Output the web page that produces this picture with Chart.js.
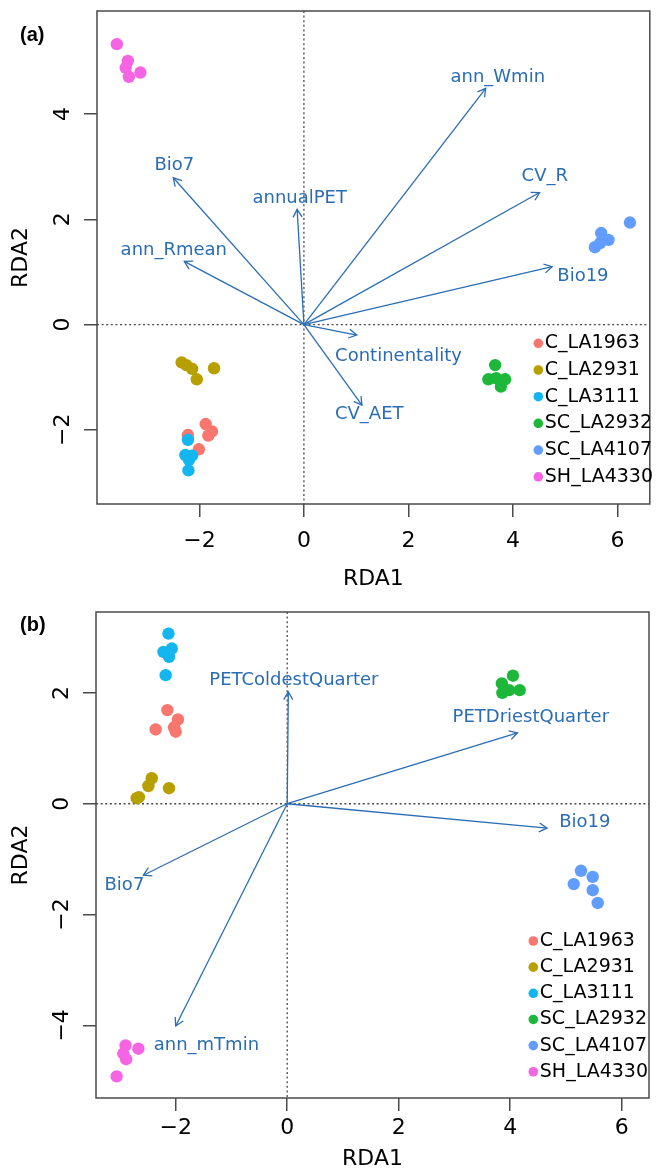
<!DOCTYPE html>
<html><head><meta charset="utf-8">
<script src="https://cdn.jsdelivr.net/npm/chart.js@4.4.1/dist/chart.umd.min.js"></script>
<style>html,body{margin:0;padding:0;background:#fff;}canvas{display:block;}</style>
</head><body>
<canvas id="ca" width="656" height="590"></canvas>
<canvas id="cb" width="656" height="580"></canvas>
<script>
// ---------- data ----------
const groups = ['C_LA1963','C_LA2931','C_LA3111','SC_LA2932','SC_LA4107','SH_LA4330'];
const groupColors = ['#F8766D','#B79F00','#14B6EF','#1DB83A','#619CFF','#F564E3'];

// panel (a) site scores
const a_C_LA1963  = [[-1.88,-1.89],[-1.76,-2.03],[-1.83,-2.11],[-2.01,-2.37],[-2.22,-2.10]];
const a_C_LA2931  = [[-2.34,-0.72],[-2.25,-0.77],[-2.14,-0.84],[-2.05,-1.04],[-1.72,-0.83]];
const a_C_LA3111  = [[-2.22,-2.19],[-2.27,-2.48],[-2.14,-2.49],[-2.20,-2.57],[-2.21,-2.77]];
const a_SC_LA2932 = [[3.66,-0.77],[3.53,-1.04],[3.68,-1.02],[3.85,-1.04],[3.77,-1.18]];
const a_SC_LA4107 = [[6.24,1.94],[5.69,1.74],[5.83,1.61],[5.57,1.47],[5.67,1.55]];
const a_SH_LA4330 = [[-3.58,5.33],[-3.37,5.01],[-3.41,4.88],[-3.35,4.71],[-3.13,4.79]];

// panel (a) biplot arrows
const a_arrowNames = ['Bio7','annualPET','ann_Rmean','ann_Wmin','CV_R','Bio19','Continentality','CV_AET'];
const a_arrowX = [-2.50,-0.13,-2.29,3.48,4.51,4.75,1.01,1.11];
const a_arrowY = [2.79,2.19,1.20,4.49,2.51,1.10,-0.20,-1.53];
const a_labelX = [-2.48,-0.08,-2.49,3.71,4.61,5.34,1.81,1.25];
const a_labelY = [3.03,2.40,1.42,4.70,2.81,0.91,-0.61,-1.70];

// panel (b) site scores
const b_C_LA1963  = [[-2.15,1.69],[-1.96,1.52],[-2.36,1.34],[-2.00,1.30],[-2.03,1.38]];
const b_C_LA2931  = [[-2.43,0.46],[-2.49,0.32],[-2.70,0.10],[-2.12,0.28],[-2.66,0.12]];
const b_C_LA3111  = [[-2.13,3.07],[-2.22,2.74],[-2.07,2.80],[-2.12,2.65],[-2.18,2.32]];
const b_SC_LA2932 = [[4.05,2.31],[3.85,2.17],[4.17,2.05],[3.86,2.00],[3.98,2.05]];
const b_SC_LA4107 = [[5.27,-1.21],[5.48,-1.32],[5.14,-1.45],[5.48,-1.56],[5.57,-1.79]];
const b_SH_LA4330 = [[-2.90,-4.36],[-2.67,-4.42],[-2.94,-4.51],[-2.89,-4.61],[-3.06,-4.92]];

// panel (b) biplot arrows
const b_arrowNames = ['PETColdestQuarter','PETDriestQuarter','Bio19','Bio7','ann_mTmin'];
const b_arrowX = [0.02,4.13,4.66,-2.58,-2.00];
const b_arrowY = [2.02,1.28,-0.44,-1.29,-4.01];
const b_labelX = [0.12,4.37,5.34,-2.92,-1.45];
const b_labelY = [2.23,1.56,-0.34,-1.47,-4.36];

// axes
const a_xTicks = [-2,0,2,4,6];
const a_yTicks = [-2,0,2,4];
const a_xRange = [-3.96,6.62];
const a_yRange = [-3.41,5.96];
const b_xTicks = [-2,0,2,4,6];
const b_yTicks = [-4,-2,0,2];
const b_xRange = [-3.43,6.49];
const b_yRange = [-5.31,3.46];
const xTitle = 'RDA1';
const yTitle = 'RDA2';

// ---------- drawing ----------
const FONT = 'DejaVu Sans';
const ARROW = '#2B6DB3';
const AXIS = '#4a4a4a';
const fmt = v => v < 0 ? '\u2212' + Math.abs(v) : String(v);

function makePanel(id, cfg) {
  const ptsets = cfg.points;
  const datasets = groups.map((g, i) => ({
    label: g,
    data: ptsets[i].map(p => ({x: p[0], y: p[1]})),
    backgroundColor: groupColors[i],
    borderColor: groupColors[i],
    borderWidth: 0,
    pointRadius: 6.2,
    pointHoverRadius: 6.2,
    order: -i
  }));
  cfg.arrowNames.forEach((n, i) => {
    datasets.push({
      label: 'arrow_' + n,
      data: [{x: 0, y: 0}, {x: cfg.arrowX[i], y: cfg.arrowY[i]}],
      showLine: true,
      borderColor: ARROW,
      borderWidth: 1.3,
      pointRadius: 0,
      pointHoverRadius: 0,
      order: -100
    });
  });

  const plugin = {
    id: 'rdaDecor_' + id,
    beforeDatasetsDraw(chart) {
      const {ctx, chartArea: ca, scales: {x, y}} = chart;
      ctx.save();
      ctx.strokeStyle = AXIS;
      ctx.lineWidth = 1.3;
      ctx.setLineDash([2, 2.6]);
      const x0 = x.getPixelForValue(0), y0 = y.getPixelForValue(0);
      ctx.beginPath();
      ctx.moveTo(x0, ca.top); ctx.lineTo(x0, ca.bottom);
      ctx.moveTo(ca.left, y0); ctx.lineTo(ca.right, y0);
      ctx.stroke();
      ctx.restore();
    },
    afterDatasetsDraw(chart) {
      const {ctx, chartArea: ca, scales: {x, y}} = chart;
      ctx.save();
      // arrow heads
      const x0 = x.getPixelForValue(0), y0 = y.getPixelForValue(0);
      ctx.strokeStyle = ARROW;
      ctx.lineWidth = 1.3;
      cfg.arrowNames.forEach((n, i) => {
        const tx = x.getPixelForValue(cfg.arrowX[i]), ty = y.getPixelForValue(cfg.arrowY[i]);
        const ang = Math.atan2(ty - y0, tx - x0);
        const L = 9, A = Math.PI / 6;
        ctx.beginPath();
        ctx.moveTo(tx - L * Math.cos(ang - A), ty - L * Math.sin(ang - A));
        ctx.lineTo(tx, ty);
        ctx.lineTo(tx - L * Math.cos(ang + A), ty - L * Math.sin(ang + A));
        ctx.stroke();
      });
      // arrow labels
      ctx.fillStyle = ARROW;
      ctx.font = '18px "' + FONT + '"';
      ctx.textAlign = 'center';
      ctx.textBaseline = 'middle';
      cfg.arrowNames.forEach((n, i) => {
        ctx.fillText(n, x.getPixelForValue(cfg.labelX[i]), y.getPixelForValue(cfg.labelY[i]));
      });
      // box
      ctx.strokeStyle = AXIS;
      ctx.lineWidth = 1.5;
      ctx.strokeRect(ca.left, ca.top, ca.right - ca.left, ca.bottom - ca.top);
      // rotated y tick labels
      ctx.fillStyle = '#000';
      ctx.font = '22px "' + FONT + '"';
      cfg.yTicks.forEach(v => {
        const py = y.getPixelForValue(v);
        ctx.save();
        ctx.translate(cfg.yLabelX, py);
        ctx.rotate(-Math.PI / 2);
        ctx.textAlign = 'center';
        ctx.textBaseline = 'middle';
        ctx.fillText(fmt(v), 0, 0);
        ctx.restore();
      });
      // legend
      ctx.font = '19px "' + FONT + '"';
      ctx.textAlign = 'left';
      ctx.textBaseline = 'middle';
      groups.forEach((g, i) => {
        const ly = cfg.legend.y + i * cfg.legend.dy;
        ctx.fillStyle = groupColors[i];
        ctx.beginPath();
        ctx.arc(cfg.legend.x, ly, 4.8, 0, Math.PI * 2);
        ctx.fill();
        ctx.fillStyle = '#000';
        ctx.fillText(g, cfg.legend.x + 6.5, ly);
      });
      // panel label
      ctx.font = 'bold 20px "Liberation Sans"';
      ctx.fillStyle = '#000';
      ctx.textAlign = 'left';
      ctx.fillText(cfg.panel, 20, cfg.panelY);
      ctx.restore();
    }
  };

  const gridOpts = {drawOnChartArea: false, drawTicks: true, tickLength: 13, color: AXIS, lineWidth: 1.5};
  return new Chart(document.getElementById(id), {
    type: 'scatter',
    data: {datasets},
    plugins: [plugin],
    options: {
      responsive: false,
      animation: false,
      devicePixelRatio: 1,
      layout: {padding: {left: 0, top: cfg.area.top, right: 656 - cfg.area.right, bottom: 0}},
      plugins: {legend: {display: false}, tooltip: {enabled: false}},
      events: [],
      scales: {
        x: {
          type: 'linear', min: cfg.xRange[0], max: cfg.xRange[1],
          afterBuildTicks: s => { s.ticks = cfg.xTicks.map(v => ({value: v})); },
          afterFit: s => { s.height = cfg.canvasH - cfg.area.bottom; },
          grid: gridOpts,
          border: {display: false},
          ticks: {font: {family: FONT, size: 22}, color: '#000', padding: cfg.xTickPad, maxRotation: 0, minRotation: 0,
                  callback: v => fmt(v)},
          title: {display: true, text: xTitle, color: '#000', font: {family: FONT, size: 22, lineHeight: 1},
                  padding: {top: 0, bottom: cfg.xTitlePad}}
        },
        y: {
          type: 'linear', min: cfg.yRange[0], max: cfg.yRange[1],
          afterBuildTicks: s => { s.ticks = cfg.yTicks.map(v => ({value: v})); },
          afterFit: s => { s.width = cfg.area.left; },
          grid: gridOpts,
          border: {display: false},
          ticks: {display: false},
          title: {display: true, text: yTitle, color: '#000', font: {family: FONT, size: 22, lineHeight: 1},
                  padding: {top: 10, bottom: 0}}
        }
      }
    }
  });
}

makePanel('ca', {
  points: [a_C_LA1963, a_C_LA2931, a_C_LA3111, a_SC_LA2932, a_SC_LA4107, a_SH_LA4330],
  arrowNames: a_arrowNames, arrowX: a_arrowX, arrowY: a_arrowY, labelX: a_labelX, labelY: a_labelY,
  xTicks: a_xTicks, yTicks: a_yTicks, xRange: a_xRange, yRange: a_yRange,
  area: {left: 97, top: 11, right: 655, bottom: 504}, canvasH: 590,
  xTickPad: 11, xTitlePad: 0, yLabelX: 63,
  legend: {x: 538.3, y: 343.3, dy: 26.7},
  panel: '(a)', panelY: 35
});
makePanel('cb', {
  points: [b_C_LA1963, b_C_LA2931, b_C_LA3111, b_SC_LA2932, b_SC_LA4107, b_SH_LA4330],
  arrowNames: b_arrowNames, arrowX: b_arrowX, arrowY: b_arrowY, labelX: b_labelX, labelY: b_labelY,
  xTicks: b_xTicks, yTicks: b_yTicks, xRange: b_xRange, yRange: b_yRange,
  area: {left: 96, top: 22, right: 649, bottom: 508}, canvasH: 580,
  xTickPad: 4, xTitlePad: 0, yLabelX: 62.5,
  legend: {x: 533.3, y: 351, dy: 26.15},
  panel: '(b)', panelY: 35
});
</script>
</body></html>
